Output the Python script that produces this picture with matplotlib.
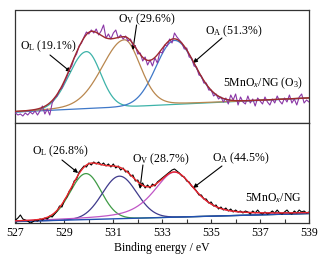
import numpy as np
import matplotlib
matplotlib.use("Agg")
import matplotlib.pyplot as plt

plt.rcParams['font.family'] = ['Liberation Serif', 'DejaVu Serif']
plt.rcParams['mathtext.fontset'] = 'custom'
plt.rcParams['mathtext.rm'] = 'Liberation Serif'
plt.rcParams['mathtext.it'] = 'Liberation Serif:italic'

# ---------------- data ----------------
energy = np.round(np.arange(527.0, 539.001, 0.1), 1)

top_counts = [
    10, 8, 9, 7, 10, 8, 11, 9, 12, 8,
    12, 17, 9, 14, 8, 20, 25, 27, 33, 35,
    41, 46, 53, 57, 65, 69, 77, 80, 86, 91,
    89, 93, 90, 94, 88, 92, 98, 85, 89, 84,
    90, 93, 85, 88, 84, 87, 82, 84, 78, 77,
    69, 70, 62, 66, 58, 63, 57, 65, 60, 71,
    70, 78, 77, 84, 80, 90, 86, 83, 80, 74,
    75, 66, 65, 57, 56, 48, 47, 40, 40, 33,
    33, 27, 29, 24, 26, 21, 25, 19, 28, 23,
    29, 18, 26, 21, 19, 27, 20, 24, 17, 25,
    22, 19, 26, 21, 18, 24, 20, 27, 22, 19,
    25, 21, 28, 20, 24, 18, 26, 29, 20, 23,
    21]

bottom_counts = [
    3, 5, 8, 4, 3, 2, 0, 1, 3, 2,
    4, 3, 5, 4, 7, 6, 9, 12, 17, 16,
    23, 26, 32, 35, 42, 44, 51, 54, 57, 56,
    60, 58, 61, 59, 61, 58, 60, 57, 59, 56,
    59, 55, 57, 53, 55, 51, 52, 47, 48, 42,
    43, 38, 40, 35, 38, 35, 39, 37, 41, 43,
    45, 47, 49, 51, 53, 54, 52, 50, 47, 46,
    42, 41, 37, 35, 32, 28, 28, 24, 24, 20,
    21, 17, 18, 14, 16, 13, 15, 12, 14, 11,
    13, 11, 12, 10, 12, 11, 9, 12, 10, 13,
    10, 9, 11, 9, 10, 12, 10, 13, 10, 9,
    11, 13, 10, 9, 12, 10, 13, 11, 12, 10,
    11]

# fitted components: O_L, O_V, O_A
top_names = ["O_L", "O_V", "O_A"]
top_center = [529.9, 531.45, 533.5]
top_amp = [57, 67, 64]
top_sig_left = [0.71, 0.92, 0.75]
top_sig_right = [0.58, 0.65, 0.82]
top_eta = [0.0, 0.15, 0.0]
top_base = [11, 25]          # background at 527 and 539 eV

bot_center = [529.88, 531.25, 533.5]
bot_amp = [46, 42.5, 45]
bot_sig_left = [0.65, 0.70, 0.85]
bot_sig_right = [0.62, 0.70, 0.85]
bot_eta = [0.0, 0.0, 0.6]
bot_base = [1.5, 9.5]

top_pct = ["19.1", "29.6", "51.3"]
bot_pct = ["26.8", "28.7", "44.5"]


def peak(x, c, a, sl, sr, eta):
    s = np.where(x < c, sl, sr)
    d = x - c
    g = np.exp(-d ** 2 / (2 * s ** 2))
    hw = 1.1774 * s
    lz = 1.0 / (1.0 + (d / hw) ** 2)
    return a * (eta * lz + (1 - eta) * g)


xf = np.linspace(527, 539, 1200)

fig = plt.figure(figsize=(3.3, 2.66), dpi=100)
W, H = 330.0, 266.0
left, right = 15.5 / W, 309 / W
ax1 = fig.add_axes([left, 1 - 123 / H, right - left, 113 / H])
ax2 = fig.add_axes([left, 1 - 223 / H, right - left, 100 / H])

spine_c = "#333333"
for ax in (ax1, ax2):
    ax.set_xlim(527, 539)
    ax.set_yticks([])
    for s in ax.spines.values():
        s.set_color(spine_c)
        s.set_linewidth(0.9)

ax1.set_ylim(0, 113)
ax2.set_ylim(0, 100)
ax1.set_xticks([])

# ---------- top panel ----------
bt = np.interp(xf, [527, 539], top_base)
tcols = ["#3db3a9", "#b9874e", "#3f78c8"]
comps = [peak(xf, top_center[i], top_amp[i], top_sig_left[i], top_sig_right[i], top_eta[i])
         for i in range(3)]
for z, i in enumerate([0, 2, 1]):
    ax1.plot(xf, bt + comps[i], color=tcols[i], lw=0.9, zorder=2 + 0.1 * z)
ax1.plot(energy, top_counts, color="#8a36a6", lw=0.8, zorder=4)
ax1.plot(xf, bt + sum(comps), color="#9e2a2f", lw=1.0, zorder=5)

# ---------- bottom panel ----------
bb = np.interp(xf, [527, 539], bot_base)
bcols = ["#3f9b46", "#3f3a8c", "#c056c6"]
bcomps = [peak(xf, bot_center[i], bot_amp[i], bot_sig_left[i], bot_sig_right[i], bot_eta[i])
          for i in range(3)]
for i in range(3):
    ax2.plot(xf, bb + bcomps[i], color=bcols[i], lw=0.9, zorder=2)
ax2.plot(xf, bb, color="#2050b0", lw=1.0, zorder=3)
ax2.plot(energy, bottom_counts, color="black", lw=0.8, zorder=4)
ax2.plot(xf, bb + sum(bcomps), color="#e8262a", lw=1.0, zorder=5)

ax2.set_xticks(np.arange(527, 540, 2))
ax2.set_xticks(np.arange(527, 540, 1), minor=True)
ax2.tick_params(axis="x", which="both", direction="in", length=3, width=0.8,
                colors=spine_c, labelcolor="black", labelsize=8.5, pad=3)
ax2.set_xlabel("Binding energy / eV", fontsize=8.5, labelpad=2)

fs = 8.5
arr = dict(arrowstyle="-|>", color="black", lw=0.8, mutation_scale=6,
           shrinkA=0, shrinkB=0)
sub = ["L", "V", "A"]

# top annotations
ax1.text(527.18, 77, r"O$_{\rm %s}$ (%s%%)" % (sub[0], top_pct[0]), fontsize=fs, va="center")
ax1.annotate("", xy=(529.26, 51), xytext=(528.41, 68), arrowprops=arr)
ax1.text(531.19, 104, r"O$_{\rm %s}$ (%s%%)" % (sub[1], top_pct[1]), fontsize=fs, va="center")
ax1.annotate("", xy=(531.8, 73), xytext=(531.95, 98), arrowprops=arr)
ax1.text(534.75, 92, r"O$_{\rm %s}$ (%s%%)" % (sub[2], top_pct[2]), fontsize=fs, va="center")
ax1.annotate("", xy=(534.26, 60), xytext=(535.44, 85), arrowprops=arr)
ax1.text(538.75, 40, r"5MnO$_x$/NG (O$_3$)", fontsize=fs, va="center", ha="right")

# bottom annotations
ax2.text(527.67, 72, r"O$_{\rm %s}$ (%s%%)" % (sub[0], bot_pct[0]), fontsize=fs, va="center")
ax2.annotate("", xy=(529.56, 50), xytext=(528.9, 63), arrowprops=arr)
ax2.text(531.76, 64, r"O$_{\rm %s}$ (%s%%)" % (sub[1], bot_pct[1]), fontsize=fs, va="center")
ax2.annotate("", xy=(532.09, 34), xytext=(532.21, 58), arrowprops=arr)
ax2.text(535.03, 65, r"O$_{\rm %s}$ (%s%%)" % (sub[2], bot_pct[2]), fontsize=fs, va="center")
ax2.annotate("", xy=(534.26, 35), xytext=(535.44, 57), arrowprops=arr)
ax2.text(538.7, 25, r"5MnO$_x$/NG", fontsize=fs, va="center", ha="right")

fig.savefig("out.png", dpi=100, facecolor="white")
